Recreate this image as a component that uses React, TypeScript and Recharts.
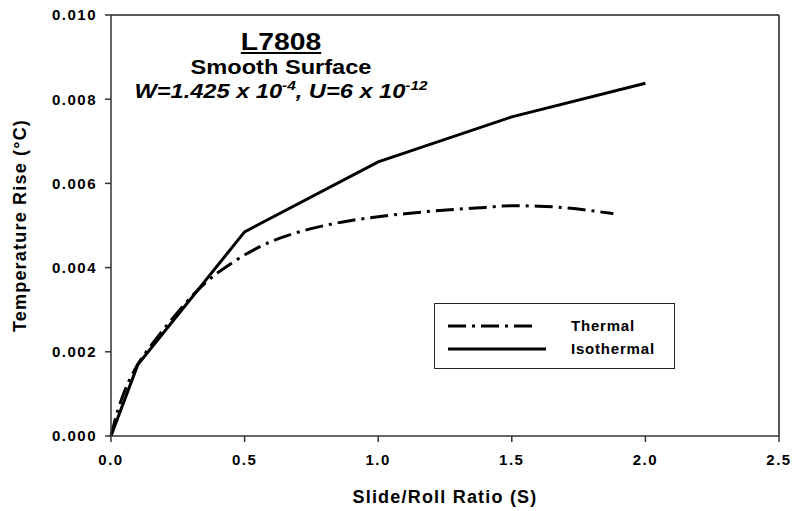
import React from 'react';
import { LineChart, Line, XAxis, YAxis, ReferenceLine, Legend } from 'recharts';

// slide/roll ratio S, temperature rise in degrees C
const isoS = [0, 0.1, 0.5, 1.0, 1.5, 2.0];
const isoT = [0, 0.00169, 0.00485, 0.00651, 0.00758, 0.00838];

const thermalS = [0, 0.025, 0.05, 0.1, 0.15, 0.2, 0.25, 0.3, 0.35, 0.4, 0.45, 0.5, 0.6, 0.7, 0.8, 0.9, 1.0, 1.1, 1.2, 1.3, 1.4, 1.5, 1.6, 1.7, 1.8, 1.88];
const thermalT = [0, 0.0006, 0.00105, 0.0017, 0.00215, 0.00256, 0.00294, 0.0033, 0.00362, 0.00388, 0.0041, 0.0043, 0.00462, 0.00484, 0.005, 0.00512, 0.00521, 0.00528, 0.00534, 0.00539, 0.00543, 0.00547, 0.00546, 0.00542, 0.00535, 0.00528];

const xTicks = [0, 0.5, 1.0, 1.5, 2.0, 2.5];
const yTicks = [0, 0.002, 0.004, 0.006, 0.008, 0.01];

const isoData = isoS.map((s, i) => ({ s, t: isoT[i] }));
const thermalData = thermalS.map((s, i) => ({ s, t: thermalT[i] }));

const FONT = '"Liberation Sans", Arial, sans-serif';
const DASH = '18 6 3 6';

function LegendBox() {
  return (
    <div
      style={{
        width: 239,
        height: 64,
        border: '1.5px solid #222',
        background: '#fff',
        position: 'relative',
      }}
    >
      <svg width={239} height={64} style={{ position: 'absolute', left: 0, top: 0 }}>
        <line x1={13} y1={22} x2={103} y2={22} stroke="#000" strokeWidth={3} strokeDasharray={DASH} />
        <line x1={13} y1={45} x2={111} y2={45} stroke="#000" strokeWidth={3} />
        <text x={136} y={27} fontFamily={FONT} fontWeight={700} fontSize={15} letterSpacing={0.8}>Thermal</text>
        <text x={136} y={50} fontFamily={FONT} fontWeight={700} fontSize={15} letterSpacing={0.8}>Isothermal</text>
      </svg>
    </div>
  );
}

export default function App() {
  return (
    <div style={{ position: 'absolute', left: 0, top: 0, width: 792, height: 511, background: '#fff' }}>
      <LineChart width={792} height={511} margin={{ top: 15, right: 13, left: 0, bottom: 0 }}>
        <XAxis
          type="number"
          dataKey="s"
          domain={[0, 2.5]}
          ticks={xTicks}
          tickFormatter={(v) => v.toFixed(1)}
          height={75}
          stroke="#333"
          strokeWidth={1.5}
          tickSize={6}
          tickMargin={12}
          tick={{ fill: '#000', fontFamily: FONT, fontWeight: 700, fontSize: 15, letterSpacing: 1.5 }}
          label={{
            value: 'Slide/Roll Ratio (S)',
            position: 'insideBottom',
            offset: 8,
            style: { fill: '#000', fontFamily: FONT, fontWeight: 700, fontSize: 18, letterSpacing: 1.2 },
          }}
          allowDuplicatedCategory={false}
        />
        <YAxis
          type="number"
          dataKey="t"
          domain={[0, 0.01]}
          ticks={yTicks}
          tickFormatter={(v) => v.toFixed(3)}
          width={111}
          stroke="#333"
          strokeWidth={1.5}
          tickSize={6}
          tickMargin={8}
          tick={{ fill: '#000', fontFamily: FONT, fontWeight: 700, fontSize: 15, letterSpacing: 1.5 }}
          label={{
            value: 'Temperature Rise (°C)',
            angle: -90,
            position: 'insideLeft',
            offset: 20,
            style: { textAnchor: 'middle', fill: '#000', fontFamily: FONT, fontWeight: 700, fontSize: 18, letterSpacing: 1.2 },
          }}
        />
        <ReferenceLine y={0.01} stroke="#222" strokeWidth={1.5} />
        <ReferenceLine x={2.5} stroke="#222" strokeWidth={1.5} />
        <Line
          data={thermalData}
          dataKey="t"
          name="Thermal"
          type="monotone"
          stroke="#000"
          strokeWidth={3}
          strokeDasharray={DASH}
          dot={false}
          isAnimationActive={false}
        />
        <Line
          data={isoData}
          dataKey="t"
          name="Isothermal"
          type="linear"
          stroke="#000"
          strokeWidth={3}
          dot={false}
          isAnimationActive={false}
        />
        <Legend
          layout="horizontal"
          verticalAlign="middle"
          align="center"
          content={() => <LegendBox />}
          wrapperStyle={{ left: 434, top: 303, width: 242, height: 67 }}
        />
      </LineChart>
      <div
        style={{
          position: 'absolute',
          left: 281,
          top: 28,
          transform: 'translateX(-50%) scaleX(1.18)',
          textAlign: 'center',
          fontFamily: FONT,
          fontWeight: 700,
          color: '#000',
          whiteSpace: 'nowrap',
          lineHeight: 1.15,
        }}
      >
        <div style={{ fontSize: 24, textDecoration: 'underline' }}>L7808</div>
        <div style={{ fontSize: 20 }}>Smooth Surface</div>
        <div style={{ fontSize: 20, fontStyle: 'italic' }}>
          W=1.425 x 10<sup style={{ fontSize: 13 }}>-4</sup>, U=6 x 10<sup style={{ fontSize: 13 }}>-12</sup>
        </div>
      </div>
    </div>
  );
}
